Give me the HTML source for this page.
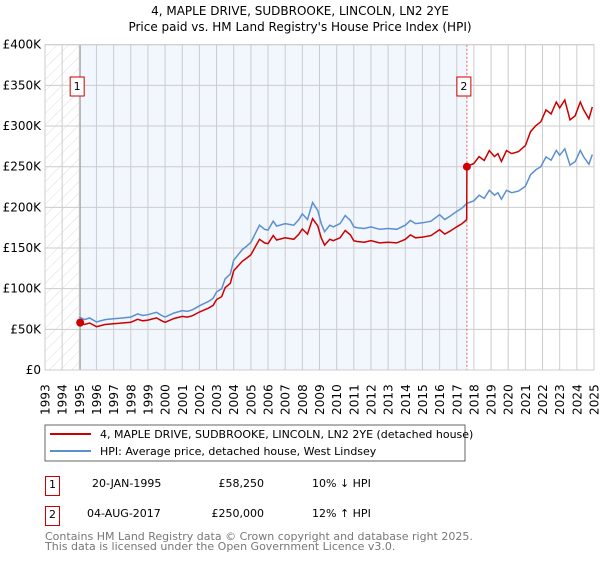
<!DOCTYPE html>
<html><head><meta charset="utf-8"><style>
body{margin:0;background:#fff;font-family:"DejaVu Sans","Liberation Sans",sans-serif;}
svg text{font-family:"DejaVu Sans","Liberation Sans",sans-serif;}
</style></head><body>
<svg id="c" width="600" height="560" viewBox="0 0 600 560" xmlns="http://www.w3.org/2000/svg">
<defs><pattern id="hatch" width="8" height="8" patternUnits="userSpaceOnUse" patternTransform="rotate(45)"><line x1="0" y1="0" x2="0" y2="8" stroke="#ddd" stroke-width="1"/></pattern></defs>
<text x="300" y="15" text-anchor="middle" font-size="12">4, MAPLE DRIVE, SUDBROOKE, LINCOLN, LN2 2YE</text>
<text x="300" y="31" text-anchor="middle" font-size="12">Price paid vs. HM Land Registry's House Price Index (HPI)</text>
<g id="plot"></g>
<rect x="45" y="425" width="420" height="36" fill="#fff" stroke="#666"/>
<line x1="50" y1="434" x2="91" y2="434" stroke="#cc0000" stroke-width="2"/>
<text x="100" y="438" font-size="11">4, MAPLE DRIVE, SUDBROOKE, LINCOLN, LN2 2YE (detached house)</text>
<line x1="50" y1="451" x2="91" y2="451" stroke="#5b8fd0" stroke-width="2"/>
<text x="100" y="455" font-size="11">HPI: Average price, detached house, West Lindsey</text>
<rect x="45.5" y="476.5" width="14" height="19" fill="#fff" stroke="#cc0000"/>
<text x="52.5" y="488" text-anchor="middle" font-size="11">1</text>
<text x="92" y="487" font-size="11">20-JAN-1995</text>
<text x="264" y="487" text-anchor="end" font-size="11">£58,250</text>
<text x="312" y="487" font-size="11">10% ↓ HPI</text>
<rect x="45.5" y="506.5" width="14" height="19" fill="#fff" stroke="#cc0000"/>
<text x="52.5" y="518" text-anchor="middle" font-size="11">2</text>
<text x="87" y="517" font-size="11">04-AUG-2017</text>
<text x="264" y="517" text-anchor="end" font-size="11">£250,000</text>
<text x="312" y="517" font-size="11">12% ↑ HPI</text>
<text x="45" y="540" font-size="11" fill="#777">Contains HM Land Registry data © Crown copyright and database right 2025.</text>
<text x="45" y="550" font-size="11" fill="#777">This data is licensed under the Open Government Licence v3.0.</text>
</svg>
<script>
const yTicks=[0,50000,100000,150000,200000,250000,300000,350000,400000];
const yTickLabels=["£0","£50K","£100K","£150K","£200K","£250K","£300K","£350K","£400K"];
const xYears=[1993,1994,1995,1996,1997,1998,1999,2000,2001,2002,2003,2004,2005,2006,2007,2008,2009,2010,2011,2012,2013,2014,2015,2016,2017,2018,2019,2020,2021,2022,2023,2024,2025];
const hpiDates=[1995.0,1995.3,1995.6,1996.0,1996.5,1997.0,1997.5,1998.0,1998.4,1998.7,1999.0,1999.5,1999.8,2000.0,2000.5,2001.0,2001.3,2001.6,2002.0,2002.3,2002.5,2002.8,2003.0,2003.3,2003.5,2003.8,2004.0,2004.5,2004.8,2005.0,2005.5,2005.8,2006.0,2006.3,2006.5,2007.0,2007.5,2007.8,2008.0,2008.3,2008.6,2008.9,2009.1,2009.3,2009.6,2009.8,2010.2,2010.5,2010.8,2011.0,2011.2,2011.6,2012.0,2012.5,2013.0,2013.5,2014.0,2014.3,2014.6,2015.0,2015.5,2016.0,2016.3,2016.6,2017.0,2017.3,2017.6,2018.0,2018.3,2018.6,2018.9,2019.2,2019.4,2019.6,2019.9,2020.2,2020.6,2021.0,2021.3,2021.6,2021.9,2022.2,2022.5,2022.8,2023.0,2023.3,2023.6,2023.9,2024.2,2024.4,2024.7,2024.9];
const hpiValues=[65000,62000,64000,59000,62000,63000,64000,65000,69000,67000,68000,71000,67000,65000,70000,73000,72000,74000,79000,82000,84000,88000,96000,100000,112000,118000,135000,148000,153000,157000,178000,173000,172000,183000,177000,180000,178000,185000,192000,185000,206000,196000,180000,170000,178000,176000,180000,190000,184000,176000,175000,174000,176000,173000,174000,173000,178000,184000,180000,181000,183000,191000,185000,189000,195000,199000,205000,208000,215000,211000,221000,215000,218000,210000,221000,218000,220000,226000,240000,246000,250000,262000,258000,270000,264000,272000,252000,256000,270000,262000,253000,265000];
const saleDates=[1995.05,2017.59];
const salePrices=[58250,250000];
const X0=45,X1=594,Y0=370,Y1=44.7;
const xs=y=>X0+(y-1993)/(2025-1993)*(X1-X0);
const ys=v=>Y0-v/400000*(Y0-Y1);
const NS="http://www.w3.org/2000/svg";
const g=document.getElementById('plot');
function mk(t,a,parent){const e=document.createElementNS(NS,t);for(const k in a)e.setAttribute(k,a[k]);(parent||g).appendChild(e);return e;}
function hpiAt(t){for(let i=0;i<hpiDates.length-1;i++){if(t<=hpiDates[i+1]){const f=(t-hpiDates[i])/(hpiDates[i+1]-hpiDates[i]);return hpiValues[i]+f*(hpiValues[i+1]-hpiValues[i]);}}return hpiValues[hpiValues.length-1];}
let e;
e=mk('rect',{x:xs(saleDates[0]),y:Y1,width:xs(saleDates[1])-xs(saleDates[0]),height:Y0-Y1,fill:'#f2f6fd'});


e=mk('rect',{x:X0,y:Y1,width:xs(saleDates[0])-X0,height:Y0-Y1,fill:'url(#hatch)'});


yTicks.forEach((v,i)=>{
 e=mk('line',{x1:X0,x2:X1,y1:ys(v),y2:ys(v),stroke:'#ccc','stroke-width':1});
 
 
 e=mk('text',{x:X0-4,y:ys(v)+4,'text-anchor':'end','font-size':12});
 e.textContent=yTickLabels[i];
 
 
});
xYears.forEach(yr=>{
 e=mk('line',{x1:xs(yr),x2:xs(yr),y1:Y1,y2:Y0,stroke:'#ccc','stroke-width':1});
 
 
 const s=String(yr);
 const ysList=[],xsList=[];
 for(let k=0;k<s.length;k++){ysList.push((415-k*7.7).toFixed(1));xsList.push((xs(yr)+4.5).toFixed(1));}
 e=mk('text',{x:xsList.join(' '),y:ysList.join(' '),rotate:'-90','font-size':12});
 e.textContent=s;
 
 
});
e=mk('line',{x1:xs(saleDates[0]),x2:xs(saleDates[0]),y1:Y1,y2:Y0,stroke:'#999','stroke-width':1});


e=mk('line',{x1:xs(saleDates[1]),x2:xs(saleDates[1]),y1:Y1,y2:Y0,stroke:'#e06060','stroke-width':1,'stroke-dasharray':'2,2'});


e=mk('rect',{x:X0,y:Y1,width:X1-X0,height:Y0-Y1,fill:'none',stroke:'#ccc'});


const hp=hpiDates.map((d,i)=>xs(d).toFixed(1)+','+ys(hpiValues[i]).toFixed(1)).join(' ');
e=mk('polyline',{points:hp,fill:'none',stroke:'#5b8fd0','stroke-width':1.5});


const pts=[];
const s0=salePrices[0]/hpiAt(saleDates[0]), s1=salePrices[1]/hpiAt(saleDates[1]);
pts.push([saleDates[0],salePrices[0]]);
hpiDates.forEach((d,i)=>{if(d>saleDates[0]&&d<saleDates[1])pts.push([d,hpiValues[i]*s0]);});
pts.push([saleDates[1]-0.01,hpiAt(saleDates[1])*s0]);
pts.push([saleDates[1],salePrices[1]]);
hpiDates.forEach((d,i)=>{if(d>saleDates[1])pts.push([d,hpiValues[i]*s1]);});
e=mk('polyline',{points:pts.map(p=>xs(p[0]).toFixed(1)+','+ys(p[1]).toFixed(1)).join(' '),fill:'none',stroke:'#cc0000','stroke-width':1.5});


saleDates.forEach((d,i)=>{
 e=mk('circle',{cx:xs(d),cy:ys(salePrices[i]),r:4,fill:'#cc0000'});
 
 
 const bx=xs(d)-3;
 e=mk('rect',{x:bx-7,y:77,width:14,height:19,fill:'#fff',stroke:'#cc0000'});
 
 
 e=mk('text',{x:bx,y:90,'text-anchor':'middle','font-size':11});
 e.textContent=String(i+1);
 
 
});
</script>
</body></html>
